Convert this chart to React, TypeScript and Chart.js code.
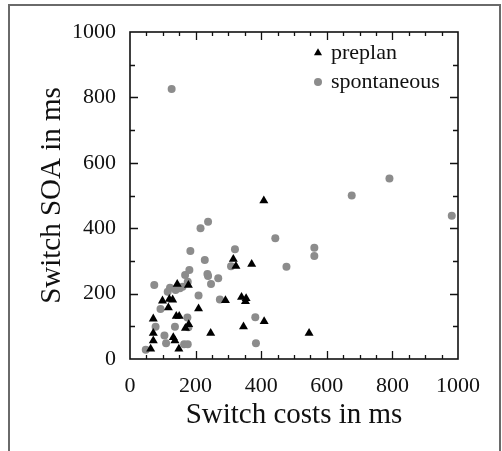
import { useEffect, useRef } from "react";
import { Chart, registerables } from "chart.js";

Chart.register(...registerables);

// ---- Data ----
const preplanX = [408, 315, 323, 371, 144, 178, 99, 120, 130, 117, 209, 291, 340, 354, 352, 141, 150, 71, 169, 179, 409, 346, 246, 71, 71, 63, 132, 137, 149, 546];
const preplanY = [484, 305, 284, 290, 229, 226, 178, 183, 181, 157, 154, 179, 189, 185, 176, 131, 131, 123, 94, 106, 115, 99, 79, 79, 56, 31, 66, 56, 31, 79];

const spontaneousX = [127, 791, 676, 981, 443, 562, 562, 477, 215, 238, 320, 184, 228, 308, 236, 238, 269, 247, 181, 168, 74, 115, 122, 139, 152, 160, 176, 209, 274, 93, 78, 105, 110, 137, 175, 178, 165, 176, 48, 382, 384];
const spontaneousY = [826, 552, 500, 438, 369, 340, 315, 282, 400, 420, 336, 330, 303, 284, 260, 254, 247, 229, 272, 257, 226, 206, 218, 211, 216, 221, 236, 194, 182, 153, 99, 72, 48, 99, 127, 97, 45, 45, 28, 128, 48];

const seriesLabels = ["preplan", "spontaneous"];
const axisMin = 0;
const axisMax = 1000;
const labelStep = 200;
const xMinorStep = 50;
const yMinorStep = 100;
const xTitle = "Switch costs in ms";
const yTitle = "Switch SOA in ms";

const FONT = "'Liberation Serif', 'Times New Roman', serif";
const INK = "#111111";
const GRAY = "#8c8c8c";
const TRI_R = 5.2;
const DOT_R = 4;

const toPoints = (xs: number[], ys: number[]) => xs.map((x, i) => ({ x, y: ys[i] }));

const frameTicksPlugin = {
  id: "frameTicks",
  afterDatasetsDraw(chart: any) {
    const { ctx, chartArea: a, scales } = chart;
    const xs = scales.x;
    const ys = scales.y;
    ctx.save();
    ctx.strokeStyle = INK;
    ctx.lineWidth = 1.6;
    ctx.strokeRect(a.left, a.top, a.right - a.left, a.bottom - a.top);
    ctx.lineWidth = 1.3;
    ctx.beginPath();
    for (let v = axisMin + xMinorStep; v < axisMax; v += xMinorStep) {
      const px = Math.round(xs.getPixelForValue(v)) + 0.5;
      const len = v % labelStep === 0 ? 8 : 4;
      ctx.moveTo(px, a.bottom);
      ctx.lineTo(px, a.bottom - len);
      ctx.moveTo(px, a.top);
      ctx.lineTo(px, a.top + len);
    }
    for (let v = axisMin + yMinorStep; v < axisMax; v += yMinorStep) {
      const py = Math.round(ys.getPixelForValue(v)) + 0.5;
      const len = v % labelStep === 0 ? 8 : 5;
      ctx.moveTo(a.left, py);
      ctx.lineTo(a.left + len, py);
      ctx.moveTo(a.right, py);
      ctx.lineTo(a.right - len, py);
    }
    ctx.stroke();
    ctx.restore();
  },
};

const legendPlugin = {
  id: "customLegend",
  afterDraw(chart: any) {
    const { ctx, chartArea: a } = chart;
    const ds = chart.data.datasets;
    const markerX = a.left + 188;
    const textX = a.left + 201;
    const rows = [a.top + 21, a.top + 50];
    ctx.save();
    ds.forEach((d: any, i: number) => {
      const cy = rows[i];
      ctx.fillStyle = d.backgroundColor;
      ctx.beginPath();
      if (d.pointStyle === "triangle") {
        const r = TRI_R * 0.9;
        ctx.moveTo(markerX, cy - r);
        ctx.lineTo(markerX + r * 0.866, cy + r * 0.5);
        ctx.lineTo(markerX - r * 0.866, cy + r * 0.5);
        ctx.closePath();
      } else {
        ctx.arc(markerX, cy, DOT_R, 0, Math.PI * 2);
      }
      ctx.fill();
      ctx.fillStyle = INK;
      ctx.font = `22px ${FONT}`;
      ctx.textBaseline = "alphabetic";
      ctx.textAlign = "left";
      ctx.fillText(d.label, textX, cy + 6);
    });
    ctx.restore();
  },
};

export default function App() {
  const canvasRef = useRef<HTMLCanvasElement | null>(null);

  useEffect(() => {
    if (!canvasRef.current) return;
    const chart = new Chart(canvasRef.current, {
      type: "scatter",
      data: {
        datasets: [
          {
            label: seriesLabels[0],
            data: toPoints(preplanX, preplanY),
            pointStyle: "triangle",
            pointRadius: TRI_R,
            pointHoverRadius: TRI_R,
            backgroundColor: "#000000",
            borderColor: "#000000",
            borderWidth: 0,
          },
          {
            label: seriesLabels[1],
            data: toPoints(spontaneousX, spontaneousY),
            pointStyle: "circle",
            pointRadius: DOT_R,
            pointHoverRadius: DOT_R,
            backgroundColor: GRAY,
            borderColor: GRAY,
            borderWidth: 0,
          },
        ],
      },
      options: {
        responsive: false,
        animation: false,
        events: [],
        layout: { padding: { top: 32, right: 44, bottom: 0, left: 0 } },
        plugins: {
          legend: { display: false },
          tooltip: { enabled: false },
        },
        scales: {
          x: {
            type: "linear",
            position: "bottom",
            min: axisMin,
            max: axisMax,
            grid: { display: false },
            border: { display: false },
            ticks: {
              stepSize: labelStep,
              color: INK,
              padding: 6,
              maxRotation: 0,
              font: { family: FONT, size: 22 },
              callback: (v: any) => String(v),
            },
            title: {
              display: true,
              text: xTitle,
              color: INK,
              font: { family: FONT, size: 29 },
              padding: { top: 0, bottom: 18 },
            },
            afterFit: (s: any) => {
              s.height = 92;
            },
          },
          y: {
            type: "linear",
            position: "left",
            min: axisMin,
            max: axisMax,
            grid: { display: false },
            border: { display: false },
            ticks: {
              stepSize: labelStep,
              color: INK,
              padding: 6,
              font: { family: FONT, size: 22 },
              callback: (v: any) => String(v),
            },
            title: {
              display: true,
              text: yTitle,
              color: INK,
              font: { family: FONT, size: 29 },
              padding: { top: 35, bottom: 0 },
            },
            afterFit: (s: any) => {
              s.width = 130;
            },
          },
        },
      },
      plugins: [frameTicksPlugin, legendPlugin],
    });
    return () => chart.destroy();
  }, []);

  return (
    <div style={{ position: "fixed", left: 0, top: 0, width: 502, height: 451, background: "#ffffff", overflow: "hidden" }}>
      <div
        style={{
          position: "absolute",
          left: 8,
          top: 4,
          width: 493,
          height: 470,
          boxSizing: "border-box",
          border: "2px solid #6a6a6a",
        }}
      />
      <canvas ref={canvasRef} width={502} height={451} style={{ position: "absolute", left: 0, top: 0, width: 502, height: 451 }} />
    </div>
  );
}
